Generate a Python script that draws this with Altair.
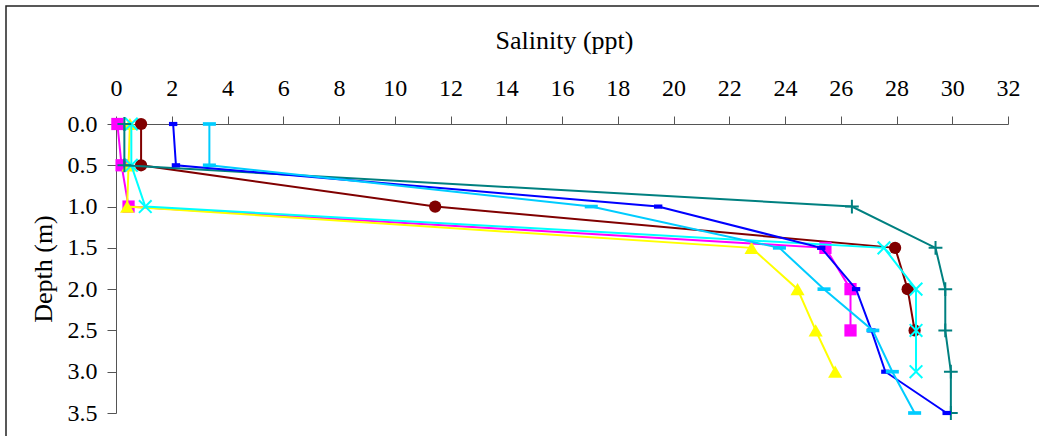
import altair as alt
import pandas as pd

# Sampling depths (m)
depth = [0.0, 0.5, 1.0, 1.5, 2.0, 2.5, 3.0, 3.5]

# Salinity profiles (ppt), one list per station, top to bottom
sal_darkred = [0.9, 0.9, 11.45, 27.95, 28.4, 28.65]
sal_magenta = [0.05, 0.2, 0.45, 25.45, 26.35, 26.35]
sal_yellow = [0.5, 0.45, 0.4, 22.8, 24.45, 25.1, 25.8]
sal_cyan = [0.55, 0.55, 1.05, 27.55, 28.7, 28.7, 28.7]
sal_teal = [0.3, 0.3, 26.4, 29.4, 29.75, 29.75, 29.95, 29.95]
sal_blue = [2.05, 2.15, 19.45, 25.3, 26.55, 27.1, 27.6, 29.8]
sal_sky = [3.35, 3.35, 17.05, 23.8, 25.4, 27.15, 27.85, 28.65]

x_ticks = list(range(0, 33, 2))
y_ticks = [0.0, 0.5, 1.0, 1.5, 2.0, 2.5, 3.0, 3.5]

FONT = "Liberation Serif"

DASH_SMALL = "M-1,-0.5L1,-0.5L1,0.5L-1,0.5Z"
DASH_WIDE = "M-1,-0.28L1,-0.28L1,0.28L-1,0.28Z"
PLUS = "M-1,0L1,0M0,-1L0,1"
XMARK = "M-1,-1L1,1M-1,1L1,-1"

series = [
    ("S1", sal_darkred, "#800000", dict(shape="circle", size=150, filled=True)),
    ("S2", sal_magenta, "#FF00FF", dict(shape="square", size=150, filled=True)),
    ("S3", sal_yellow, "#FFFF00", dict(shape="triangle-up", size=200, filled=True)),
    ("S4", sal_cyan, "#00FFFF", dict(shape=XMARK, size=160, filled=False, strokeWidth=2)),
    ("S5", sal_teal, "#008080", dict(shape=PLUS, size=190, filled=False, strokeWidth=2)),
    ("S6", sal_blue, "#0000FF", dict(shape=DASH_SMALL, size=70, filled=True)),
    ("S7", sal_sky, "#00CCFF", dict(shape=DASH_WIDE, size=170, filled=True)),
]

rows = []
for name, vals, _, _ in series:
    for d, s in zip(depth, vals):
        rows.append({"station": name, "depth": d, "salinity": s})
df = pd.DataFrame(rows)

x_enc = alt.X(
    "salinity:Q",
    scale=alt.Scale(domain=[0, 32], nice=False, zero=False),
    axis=alt.Axis(
        orient="top", values=x_ticks, format="d", title="Salinity (ppt)",
        grid=False, tickSize=8, labelPadding=16, titleY=-76,
        titleBaseline="alphabetic", titleX=448, labelFlush=False,
    ),
)
y_enc = alt.Y(
    "depth:Q",
    scale=alt.Scale(domain=[0, 3.5], reverse=True, nice=False, zero=False),
    axis=alt.Axis(
        values=y_ticks, format=".1f", title="Depth (m)", grid=False,
        tickSize=9, labelPadding=10, titleX=-73, titleBaseline="middle",
        labelFlush=False,
    ),
)

layers = []

# Chart-area frame
frame = alt.Chart(alt.Data(values=[{}])).mark_rect(
    fill=None, stroke="#222222", strokeWidth=1.5
).encode(
    x=alt.value(-110), x2=alt.value(940), y=alt.value(-118), y2=alt.value(340)
)
layers.append(frame)

for name, _, color, marker in series:
    base = alt.Chart(df).transform_filter(alt.datum.station == name)
    line = base.mark_line(color=color, strokeWidth=2).encode(
        x=x_enc, y=y_enc, order=alt.Order("depth:Q")
    )
    pt_kwargs = dict(marker)
    if pt_kwargs.get("filled"):
        pt_kwargs.update(fill=color, stroke=None, opacity=1)
    else:
        pt_kwargs.update(stroke=color, opacity=1)
    points = base.mark_point(**pt_kwargs).encode(x=x_enc, y=y_enc)
    layers += [line, points]

chart = alt.layer(*layers).properties(
    width=892,
    height=289,
    autosize=alt.AutoSizeParams(type="none"),
    padding={"left": 116, "top": 124, "right": 31, "bottom": 23},
    background="white",
).configure_view(stroke=None).configure_axis(
    labelFont=FONT, titleFont=FONT, labelFontSize=24, titleFontSize=26,
    titleFontWeight="normal", labelColor="black", titleColor="black",
    domainColor="#555555", tickColor="#555555", domainWidth=1, tickWidth=1,
)

chart.save("out.html", embed_options={"renderer": "svg", "actions": False})
